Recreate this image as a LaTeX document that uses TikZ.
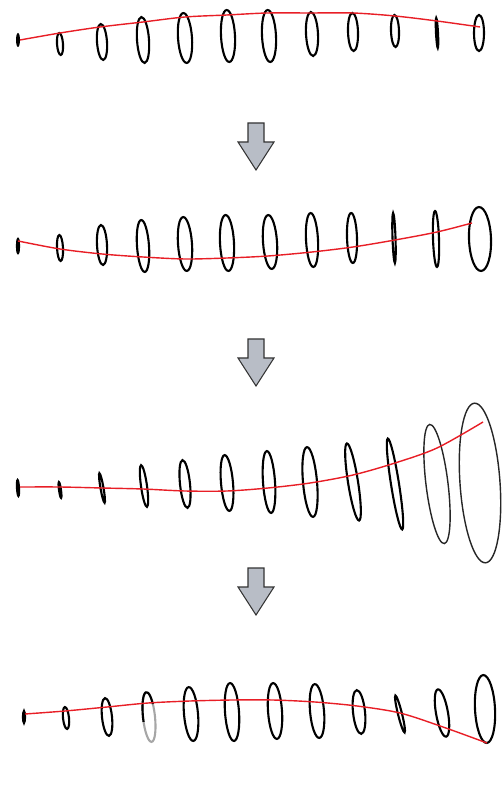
\documentclass[tikz,border=0pt]{standalone}
\usepackage{tikz}
\usepackage{xcolor}
\usetikzlibrary{calc}

\definecolor{curvered}{RGB}{232,30,38}
\definecolor{arrowgray}{RGB}{184,189,198}

\begin{document}
\begin{tikzpicture}[
    x=0.02cm, y=-0.02cm,
    ring/.style={draw=black, line width=1.2pt},
    thinring/.style={draw=black!85, line width=0.8pt},
    spine/.style={draw=curvered, line width=0.8pt},
    blockarr/.style={draw=black!80, fill=arrowgray, line width=0.6pt, line join=miter},
]
\useasboundingbox (0,0) rectangle (501,786);
% Row 1
\fill[black, rotate around={0:(18,40)}] (18,40) ellipse [x radius=2, y radius=7];
\foreach \cx/\cy/\rx/\ry/\a in {60/44/3/11/4, 102/42/5/18/4, 143/40/6/23/4, 185/38/7/25/4,
    228/36/7/26/3, 269/36/7/26/3, 312/34/6/22/3, 353/32/5/19/2, 395/31/4/16/2,
    437/33/1/15/3, 479/33/5/18/0}
  \draw[ring, rotate around={\a:(\cx,\cy)}] (\cx,\cy) ellipse [x radius=\rx, y radius=\ry];
\draw[spine] plot[smooth] coordinates {(20,40) (60,33) (100,27) (143,22) (185,17) (227,15)
    (267,13) (310,13) (353,13) (395,16) (437,21) (480,27)};
% Row 2
\foreach \cx/\cy/\rx/\ry/\a in {18/246/1/7/0, 60/248/3/13/3, 102/245/5/20/3, 143/246/6/26/4,
    185/244/7/27/4, 227/243/7/28/3, 270/242/7/27/4, 312/240/6/27/3, 352/238/5/25/2,
    394/238/1.5/25/2, 436/239/3/28/2, 480/239/11/32/2}
  \draw[ring, rotate around={\a:(\cx,\cy)}] (\cx,\cy) ellipse [x radius=\rx, y radius=\ry];
\draw[spine] plot[smooth] coordinates {(18,241) (60,249) (102,254) (143,257) (185,259) (227,258)
    (268,256) (312,252) (353,247) (395,240) (437,232) (472,223)};
% Row 3
\foreach \cx/\cy/\rx/\ry/\a in {18/488/1/8/3, 60/490/1/8/8, 102/488/1.5/15/10, 144/486/3/21/8,
    185/484/5/24/6, 227/483/6/28/5, 269/482/6/31/4, 310/482/7/35/5, 353/482/5/39/9,
    395/484/4/46/9}
  \draw[ring, rotate around={\a:(\cx,\cy)}] (\cx,\cy) ellipse [x radius=\rx, y radius=\ry];
\draw[thinring, rotate around={7:(437,484)}] (437,484) ellipse [x radius=11, y radius=60];
\draw[thinring, rotate around={4:(480,483)}] (480,483) ellipse [x radius=20, y radius=80];
\draw[spine] plot[smooth] coordinates {(20,487) (60,487) (102,488) (143,489) (185,491) (227,491)
    (268,488) (310,483) (353,475) (395,463) (437,448) (483,422)};
% Row 4
\foreach \cx/\cy/\rx/\ry/\a in {24/717/1/6/0, 66/718/3/11/6, 107/717/5/19/6,
    191/714/7/27/5, 232/712/7/29/4, 275/711/7/28/4, 317/711/7/27/5, 359/712/6/22/6,
    400/714/2/19/14, 442/713/6/24/10, 485/709/10/34/3}
  \draw[ring, rotate around={\a:(\cx,\cy)}] (\cx,\cy) ellipse [x radius=\rx, y radius=\ry];
\draw[ring, draw=black!35, rotate around={6:(149,717)}] (149,717) ellipse [x radius=6, y radius=25];
\draw[ring, rotate around={6:(149,717)}] ($(149,717)+({6*cos(-30)},{25*sin(-30)})$)
    arc[start angle=-30, end angle=-190, x radius=6, y radius=25];
\draw[spine] plot[smooth] coordinates {(25,714) (65,711) (107,707) (148,703) (190,701) (232,700)
    (273,700) (315,702) (357,706) (400,713) (443,727) (487,743)};
% Arrows between rows
\foreach \t in {123,339,568}
  \draw[blockarr] (248,\t) -- (264,\t) -- (264,\t+19) -- (274,\t+19) -- (256,\t+47)
    -- (238,\t+19) -- (248,\t+19) -- cycle;
\end{tikzpicture}
\end{document}
